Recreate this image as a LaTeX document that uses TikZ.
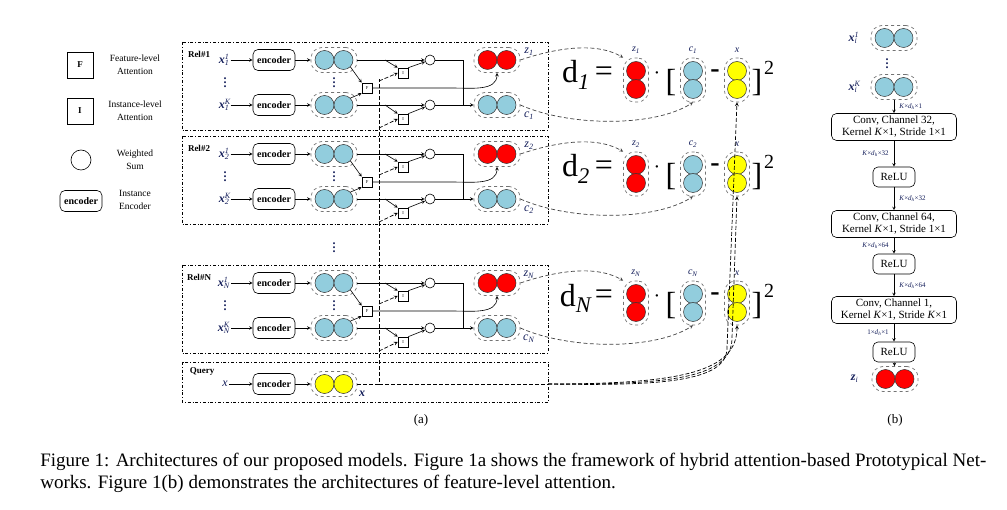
\documentclass[tikz,border=0pt]{standalone}
\usepackage{fontspec}
\setmainfont{Liberation Serif}
\usetikzlibrary{positioning}

\definecolor{ballred}{RGB}{255,0,0}
\definecolor{ballcyan}{RGB}{146,205,221}
\definecolor{ballyellow}{RGB}{255,255,0}
\definecolor{labnavy}{RGB}{20,30,90}

% labels with super- and subscript
\newcommand{\vecx}[2]{\textbf{\textit{x}}\rlap{\textsuperscript{\textit{#1}}}\textsubscript{\textit{#2}}}
\newcommand{\dimtxt}[2]{\textit{#1}×\textit{d}\textsubscript{\textit{h}}×#2}

% two embeddings inside a dashed group
\newcommand{\hpair}[3]{%
  \node (#1) [hgroup] at (#2) {};
  \node (#1-l) [ball, fill=#3] at ([xshift=-9.5pt]#1.center) {};
  \node (#1-r) [ball, fill=#3] at ([xshift=9.5pt]#1.center) {};}
\newcommand{\vpair}[3]{%
  \node (#1) [vgroup] at (#2) {};
  \node (#1-t) [ball, fill=#3] at ([yshift=9pt]#1.center) {};
  \node (#1-b) [ball, fill=#3] at ([yshift=-9pt]#1.center) {};}

\tikzset{
  ball/.style={circle, draw=black!80, line width=0.5pt, minimum size=19pt, inner sep=0pt},
  hgroup/.style={draw=black!55, dashed, line width=0.7pt, rounded corners=11pt, minimum width=46pt, minimum height=25pt, inner sep=0pt},
  vgroup/.style={draw=black!55, dashed, line width=0.7pt, rounded corners=11pt, minimum width=25pt, minimum height=44pt, inner sep=0pt},
  encbox/.style={draw, rounded corners=5pt, minimum width=42pt, minimum height=21pt, inner sep=1pt, font=\fontsize{10}{12}\selectfont\bfseries},
  attn/.style={draw, minimum size=10pt, inner sep=0pt, font=\fontsize{4.5}{5}\selectfont},
  wsum/.style={circle, draw, minimum size=10pt, inner sep=0pt},
  relframe/.style={dash dot, line width=0.8pt},
  qline/.style={dash pattern=on 4pt off 2pt, line width=0.7pt},
  dline/.style={dash pattern=on 4pt off 2.5pt, black!75, line width=0.7pt},
  blkname/.style={font=\fontsize{9}{10}\selectfont\bfseries, inner sep=0pt},
  vlab/.style={text=labnavy, font=\fontsize{12}{12}\selectfont, inner sep=1pt},
  glab/.style={text=labnavy, font=\fontsize{12}{12}\selectfont, inner sep=0pt},
  flab/.style={text=labnavy, font=\fontsize{10}{10}\selectfont, inner sep=0pt},
  dots/.style={font=\fontsize{12}{12}\selectfont\bfseries, text=labnavy, inner sep=0pt},
  lgd/.style={align=center, font=\fontsize{9.5}{13}\selectfont},
  bigf/.style={font=\fontsize{32}{32}\selectfont, inner sep=0pt},
  convbox/.style={draw, rounded corners=5pt, minimum width=125pt, minimum height=27pt, align=center, inner sep=1pt, font=\fontsize{11}{12}\selectfont},
  relubox/.style={draw, rounded corners=5pt, minimum width=42pt, minimum height=20pt, inner sep=1pt, font=\fontsize{11}{12}\selectfont},
  dimlbl/.style={text=labnavy, font=\fontsize{7}{7}\selectfont, inner sep=1pt},
  capt/.style={font=\fontsize{19}{21}\selectfont, inner sep=0pt}
}

\begin{document}
\begin{tikzpicture}[x=1pt, y=-1pt, >=stealth, line width=0.6pt]
  \useasboundingbox (0,0) rectangle (1007,510);  % page size of the reference

  % Legend
  \node (lgF) [attn, minimum size=26pt, font=\fontsize{9}{9}\selectfont\bfseries] at (80,65) {F};
  \node (lgFt) [lgd] at (135,65) {Feature-level\\Attention};
  \node (lgI) [attn, minimum size=26pt, font=\fontsize{9}{9}\selectfont\bfseries] at (80,111) {I};
  \node (lgIt) [lgd] at (135,111) {Instance-level\\Attention};
  \node (lgW) [wsum, minimum size=20pt] at (81,160) {};
  \node (lgWt) [lgd] at (135,160) {Weighted\\Sum};
  \node (lgE) [encbox] at (81,201) {encoder};
  \node (lgEt) [lgd] at (135,200) {Instance\\Encoder};

  % Relation blocks and their distance formulas
  \foreach \t/\s in {42/1, 136/2, 265/N} {
    \pgfmathsetmacro{\ya}{\t+18}  % first instance row
    \pgfmathsetmacro{\yb}{\t+63}  % K-th instance row
    \pgfmathsetmacro{\fy}{\t+38}  % formula row
    \draw[relframe] (182,\t) rectangle (548,\t+88);
    \node (rel\s) [blkname] at (199,\t+12) {Rel\#\s};
    \node (xa\s) [vlab] at (224,\ya) {\vecx{1}{\s}};
    \node (xb\s) [vlab] at (224,\yb) {\vecx{K}{\s}};
    \node [dots] at (225,\t+38) {\vdots};
    \node (enca\s) [encbox] at (274,\ya) {encoder};
    \node (encb\s) [encbox] at (274,\yb) {encoder};
    \hpair{pa\s}{334,\ya}{ballcyan}
    \hpair{pb\s}{334,\yb}{ballcyan}
    \node [dots] at (334,\t+38) {\vdots};
    \node (F\s) [attn] at (367,\t+46) {F};
    \node (Ia\s) [attn] at (403,\t+31) {I};
    \node (Ib\s) [attn] at (403,\t+77) {I};
    \node (wa\s) [wsum] at (430,\ya) {};
    \node (wb\s) [wsum] at (430,\yb) {};
    \hpair{zg\s}{497,\ya}{ballred}
    \hpair{cg\s}{497,\yb}{ballcyan}
    \node (zl\s) [glab] at (529,\t+10) {\textit{z}\textsubscript{\textit{\s}}};
    \node (cl\s) [glab] at (529,\t+74) {\textit{c}\textsubscript{\textit{\s}}};
    \coordinate (ba\s) at (385,\ya);
    \coordinate (bb\s) at (385,\yb);
    \coordinate (ja\s) at (463,\ya);
    \coordinate (jb\s) at (463,\yb);
    \coordinate (fz\s) at (452,\t+46);
    \coordinate (qa\s) at (379,\t+39);
    \coordinate (qb\s) at (379,\t+86);
    % arrows inside the block
    \draw[->] (xa\s) -- (enca\s);
    \draw[->] (xb\s) -- (encb\s);
    \draw[->] (enca\s) -- (pa\s);
    \draw[->] (encb\s) -- (pb\s);
    \draw[->] (pa\s) -- (wa\s);
    \draw[->] (pb\s) -- (wb\s);
    \draw[->] (pa\s-r.south east) -- (F\s.north west);
    \draw[->] (pb\s-r.north east) -- (F\s.south west);
    \draw[->] (ba\s) -- (Ia\s.north west);
    \draw[->] (bb\s) -- (Ib\s.north west);
    \draw[->] (Ia\s.north east) -- (wa\s);
    \draw[->] (Ib\s.north east) -- (wb\s);
    \draw[qline,->] (qa\s) -- (Ia\s.west);
    \draw[qline,->] (qb\s) -- (Ib\s.west);
    \draw (wa\s) -- (ja\s) -- (jb\s);
    \draw[->] (wb\s) -- (cg\s);
    \draw[->] (F\s) -- (fz\s) to[out=0, in=-90] (zg\s.south);
    % distance formula
    \node (d\s) [bigf] at (576,\fy-5) {d\textsubscript{\textit{\s}}};
    \node (eq\s) [bigf] at (604,\fy-6) {=};
    \vpair{zc\s}{636,\fy}{ballred}
    \node (zt\s) [flab] at (636,\fy-30) {\textit{z}\textsubscript{\textit{\s}}};
    \node (dot\s) [bigf, font=\fontsize{20}{20}\selectfont] at (657,\fy-4) {·};
    \node (lb\s) [bigf] at (671,\fy+3) {[};
    \vpair{cc\s}{693,\fy}{ballcyan}
    \node (ct\s) [flab] at (693,\fy-30) {\textit{c}\textsubscript{\textit{\s}}};
    \node (mi\s) [bigf, font=\fontsize{28}{28}\selectfont\bfseries] at (715,\fy-6) {-};
    \vpair{xc\s}{737,\fy}{ballyellow}
    \node (xt\s) [flab] at (737,\fy-30) {\textit{x}};
    \node (rb\s) [bigf] at (757,\fy+3) {]};
    \node (sq\s) [bigf, font=\fontsize{20}{20}\selectfont] at (769,\fy-12) {2};
    % links to the formula
    \draw[dline,->] (zg\s.east) .. controls (565,\t+3) and (600,\t+2) .. (zc\s.north west);
    \draw[dline,->] (cg\s.east) .. controls (570,\yb+22) and (655,\yb+22) .. (cc\s.south);
  }
  \node [dots] at (334,245) {\vdots};

  % Query block
  \draw[relframe] (182,362) rectangle (548,402);
  \node (qname) [blkname] at (202,371) {Query};
  \node (qx) [vlab] at (225,384) {\textit{x}};
  \node (qenc) [encbox] at (274,384) {encoder};
  \hpair{qg}{334,384}{ballyellow}
  \node (qxl) [glab] at (362,394) {\textbf{\textit{x}}};
  \coordinate (qc) at (379,384);
  \coordinate (qtop) at (379,79);
  \coordinate (qo) at (548,384);
  \draw[->] (qx) -- (qenc);
  \draw[->] (qenc) -- (qg);
  \draw[qline] (qg) -- (qc) -- (qtop);
  \draw[qline] (qc) -- (qo);
  \draw[qline,->] (qo) .. controls (680,384) and (737,372) .. (xcN.south);
  \draw[qline,->] (qo) .. controls (670,385) and (732,378) .. (732,338) -- (xc2.south);
  \draw[qline,->] (qo) .. controls (660,386) and (727,382) .. (727,348) -- (xc1.south);
  \node (suba) [font=\fontsize{13}{13}\selectfont] at (421,420) {(a)};

  % Feature-level attention (b)
  \node (xi1) [vlab] at (853,38) {\vecx{1}{i}};
  \hpair{ra}{894,38}{ballcyan}
  \node [dots] at (887,61) {\vdots};
  \node (xiK) [vlab] at (853,87) {\vecx{K}{i}};
  \hpair{rb}{894,87}{ballcyan}
  \node (conv1) [convbox] at (894,127) {Conv, Channel 32,\\Kernel \textit{K}×1, Stride 1×1};
  \node (relu1) [relubox] at (894,177) {ReLU};
  \node (conv2) [convbox] at (894,224) {Conv, Channel 64,\\Kernel \textit{K}×1, Stride 1×1};
  \node (relu2) [relubox] at (894,264) {ReLU};
  \node (conv3) [convbox] at (894,310) {Conv, Channel 1,\\Kernel \textit{K}×1, Stride \textit{K}×1};
  \node (relu3) [relubox] at (894,352) {ReLU};
  \hpair{zi}{895,379}{ballred}
  \node (zil) [vlab, left=12pt of zi] {\textbf{\textit{z}}\textsubscript{\textit{i}}};
  \node (subb) [font=\fontsize{13}{13}\selectfont] at (895,420) {(b)};
  \draw[->] (rb) -- (conv1) node[dimlbl, midway, right=4pt] {\dimtxt{K}{1}};
  \draw[->] (conv1) -- (relu1) node[dimlbl, midway, left=4pt] {\dimtxt{K}{32}};
  \draw[->] (relu1) -- (conv2) node[dimlbl, midway, right=4pt] {\dimtxt{K}{32}};
  \draw[->] (conv2) -- (relu2) node[dimlbl, midway, left=4pt] {\dimtxt{K}{64}};
  \draw[->] (relu2) -- (conv3) node[dimlbl, midway, right=4pt] {\dimtxt{K}{64}};
  \draw[->] (conv3) -- (relu3) node[dimlbl, midway, left=4pt] {1×\textit{d}\textsubscript{\textit{h}}×1};
  \draw[->] (relu3) -- (zi);

  % Caption
  \node (cap1) [capt, anchor=base west] at (40,467) {Figure 1: Architectures of our proposed models. Figure 1a shows the framework of hybrid attention-based Prototypical Net-};
  \node (cap2) [capt, anchor=base west] at (40,488) {works. Figure 1(b) demonstrates the architectures of feature-level attention.};
\end{tikzpicture}
\end{document}
